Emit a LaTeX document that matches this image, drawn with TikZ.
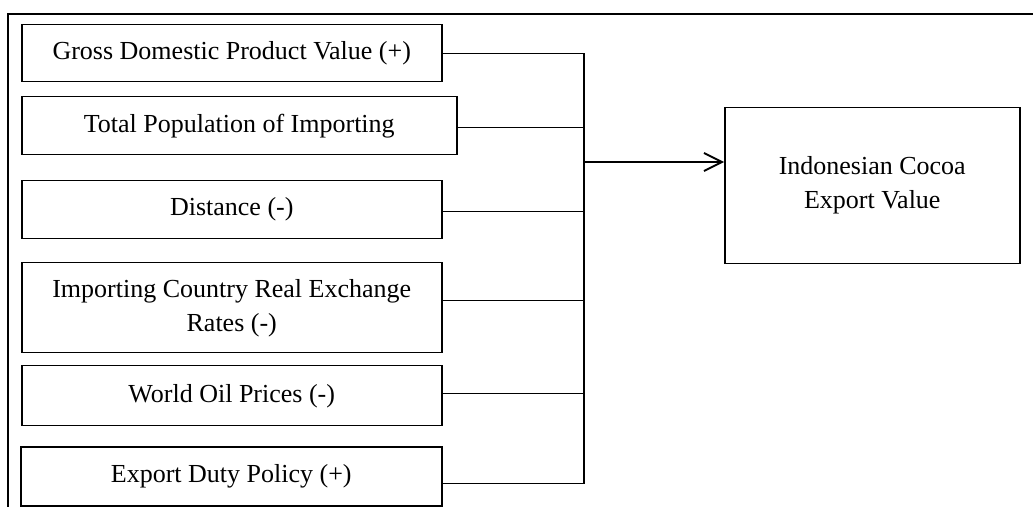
\documentclass[tikz,border=0pt]{standalone}
\usepackage{fontspec}
\setmainfont{Liberation Serif}
\usetikzlibrary{arrows.meta,positioning}

\begin{document}
\begin{tikzpicture}[x=0.5pt,y=-0.5pt,line width=0.75pt,
   var/.style={draw,rectangle,anchor=north west,align=center,inner sep=0pt,
      font=\fontsize{13}{17}\selectfont},
   link/.style={draw,line width=0.7pt},
   arr/.style={-{Straight Barb[length=9pt,width=9pt,line width=0.9pt]},line width=0.9pt}]
   \useasboundingbox (0,0) rectangle (1033,507);
   % outer frame
   \draw (8,507) -- (8,14) -- (1040,14);
   % determinants
   \node[var,minimum width=210pt,minimum height=28.5pt] (x_1) at (21,24) {Gross Domestic Product Value (+)};
   \node[var,minimum width=217.5pt,minimum height=29pt] (x_2) at (21,96) {Total Population of Importing};
   \node[var,minimum width=210pt,minimum height=29pt] (x_3) at (21,180) {Distance (-)};
   \node[var,minimum width=210pt,minimum height=45pt] (x_4) at (21,262) {Importing Country Real Exchange\\Rates (-)};
   \node[var,minimum width=210pt,minimum height=30pt] (x_5) at (21,365) {World Oil Prices (-)};
   \node[var,minimum width=210.5pt,minimum height=29.5pt] (x_6) at (20,446) {Export Duty Policy (+)};
   % dependent variable
   \node[var,minimum width=147.5pt,minimum height=78pt] (y) at (724,107) {Indonesian Cocoa\\Export Value};
   \coordinate (bus) at (584,162);
   \foreach \v/\s in {x_1/0pt,x_2/-1pt,x_3/-1pt,x_4/3.5pt,x_5/1pt,x_6/-3.75pt}
      \draw[link] ([yshift=\s]\v.east) -| (bus);
   \draw[arr] (bus) -- (bus -| y.west);
\end{tikzpicture}
\end{document}
